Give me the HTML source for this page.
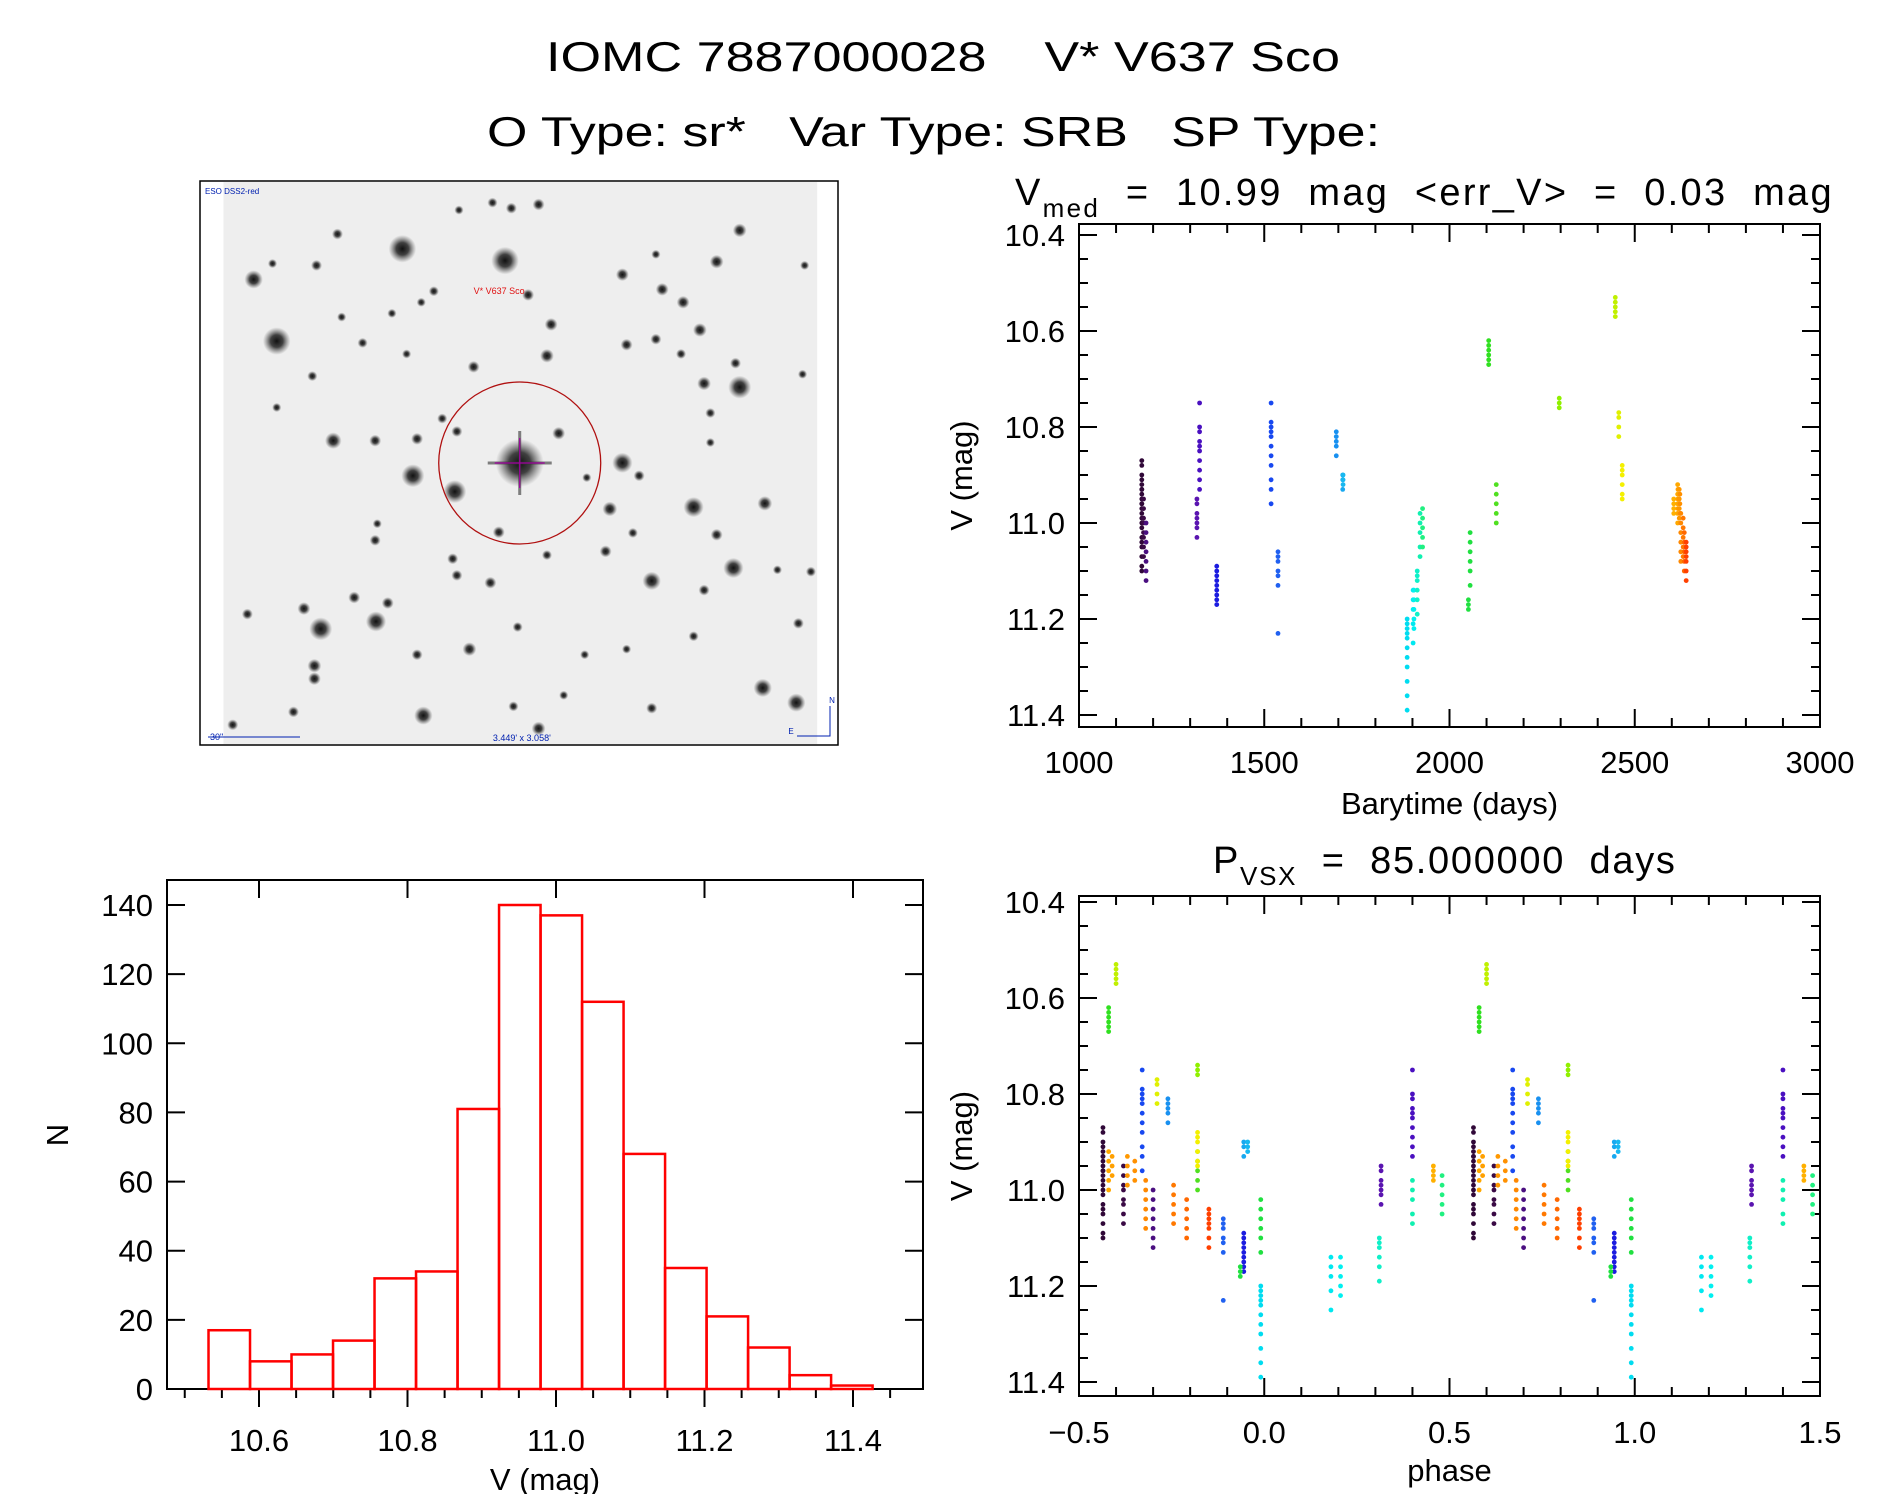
<!DOCTYPE html>
<html><head><meta charset="utf-8"><title>IOMC 7887000028</title>
<style>
html,body{margin:0;padding:0;background:#fff;}
svg{display:block;font-family:"Liberation Sans",sans-serif;}
text{white-space:pre;}
</style></head>
<body>
<svg id="fig" width="1889" height="1494" viewBox="0 0 1889 1494" xmlns="http://www.w3.org/2000/svg">
<defs>
<radialGradient id="blob"><stop offset="0" stop-color="#111" stop-opacity="1"/><stop offset="0.45" stop-color="#222" stop-opacity="0.85"/><stop offset="1" stop-color="#555" stop-opacity="0"/></radialGradient>
</defs>
<text x="546" y="71" font-size="42" textLength="794" lengthAdjust="spacingAndGlyphs" xml:space="preserve">IOMC 7887000028    V* V637 Sco</text>
<text x="487" y="146" font-size="42" textLength="893" lengthAdjust="spacingAndGlyphs" xml:space="preserve">O Type: sr*   Var Type: SRB   SP Type:</text>
<g id="sky"></g>
<g id="lc"></g>
<g id="ph"></g>
<g id="hist"></g>
</svg>
<script>
// ---------- data ----------
const histCounts = [17,8,10,14,32,34,81,140,137,112,68,35,21,12,4,1];
const histStart = 10.532;
const histBinWidth = 0.0559;
const histYTicks = [0,20,40,60,80,100,120,140];
const histXTicks = [10.6,10.8,11.0,11.2,11.4];

// each entry = one observing night (time in days, list of magnitudes)
const seasonColors = ["#300838","#3a0a45","#4a0f80","#4a10c0","#5a14b0","#1c1ce0","#1848f0","#2060f0","#1890f0","#18a8f0","#18b8f0","#00dcf0","#00e8f0","#00f0f0","#10f0c8","#10f0b0","#20f080","#20e040","#20e040","#30e020","#50e020","#90f000","#c0f000","#e0f000","#f4f000","#ffb000","#ffa800","#ffa000","#ff9800","#ff9000","#ff8800","#ff7800","#ff6800","#ff4000"];
const seasonTimes = [1169.5,1174.2,1181.0,1325.5,1318.3,1371.8,1518.5,1537.1,1694.4,1711.8,1712.7,1885.7,1901.8,1904.0,1912.9,1920.5,1927.3,2051.0,2055.7,2105.8,2126.2,2296.2,2447.5,2456.9,2466.2,2605.3,2615.8,2616.6,2620.1,2621.8,2624.3,2630.7,2633.7,2638.8];
const seasonMags = [
 [10.87,10.88,10.90,10.91,10.92,10.93,10.94,10.95,10.96,10.97,10.98,10.99,11.00,11.01,11.03,11.05,11.07,11.09,11.10,11.04,10.96,10.93],
 [10.95,10.97,10.99,11.00,11.02,11.03,11.05,11.07],
 [11.00,11.02,11.04,11.06,11.08,11.10,11.12],
 [10.75,10.80,10.81,10.83,10.84,10.85,10.87,10.89,10.91,10.93],
 [10.95,10.96,10.98,10.99,11.00,11.01,11.03],
 [11.09,11.10,11.11,11.12,11.13,11.14,11.15,11.16,11.17],
 [10.75,10.79,10.80,10.81,10.82,10.84,10.86,10.88,10.91,10.93,10.96],
 [11.06,11.07,11.08,11.10,11.11,11.13,11.23],
 [10.81,10.82,10.83,10.84,10.86],
 [10.90,10.91,10.93],
 [10.90,10.91,10.92],
 [11.20,11.21,11.22,11.23,11.24,11.26,11.28,11.30,11.33,11.36,11.39],
 [11.14,11.16,11.18,11.21,11.25],
 [11.14,11.16,11.18,11.20,11.22],
 [11.10,11.11,11.12,11.14,11.16,11.19],
 [10.98,11.00,11.02,11.05,11.07],
 [10.97,10.99,11.01,11.03,11.05],
 [11.16,11.17,11.18],
 [11.02,11.04,11.06,11.08,11.10,11.13],
 [10.62,10.63,10.64,10.65,10.66,10.67],
 [10.92,10.94,10.96,10.98,11.00],
 [10.74,10.75,10.76],
 [10.53,10.54,10.55,10.56,10.57],
 [10.77,10.78,10.80,10.82],
 [10.88,10.89,10.90,10.92,10.94,10.95],
 [10.95,10.96,10.97,10.98],
 [10.92,10.94,10.96,10.98,11.00],
 [10.93,10.95,10.97],
 [10.93,10.95,10.97,10.99],
 [10.94,10.96,10.98],
 [10.98,11.00,11.02,11.04,11.06,11.08],
 [10.99,11.01,11.03,11.05,11.07],
 [11.02,11.04,11.06,11.08,11.10],
 [11.04,11.05,11.06,11.07,11.08,11.10,11.12]
];
const period = 85.0;
const epoch = 1121.5;
const lcXTicks = [1000,1500,2000,2500,3000];
const magTicks = [10.4,10.6,10.8,11.0,11.2,11.4];
const phXTicks = [-0.5,0.0,0.5,1.0,1.5];
const phXLabels = ["\u22120.5","0.0","0.5","1.0","1.5"];

// ---------- helpers ----------
const NS = "http://www.w3.org/2000/svg";
function mk(parent, tag, attrs, text){
  const e = document.createElementNS(NS, tag);
  for (const k in attrs) e.setAttribute(k, attrs[k]);
  if (text !== undefined) e.textContent = text;
  parent.appendChild(e);
  return e;
}
function lin(d0,d1,r0,r1){ return v => r0 + (v-d0)*(r1-r0)/(d1-d0); }

function frame(g, L, T, R, B){
  const r = mk(g,"rect",{x:L,y:T,width:R-L,height:B-T,fill:"none",stroke:"#000","stroke-width":2});
  
  
}
function tick(g,x1,y1,x2,y2){
  const l = mk(g,"line",{x1:x1,y1:y1,x2:x2,y2:y2,stroke:"#000","stroke-width":2});
  
  
}
function label(g,x,y,txt,size,anchor,name){
  const t = mk(g,"text",{x:x,y:y,"font-size":size,"text-anchor":anchor||"middle",fill:"#000"},txt);
  
  
  return t;
}
function magAxis(g, L, R, y){
  for (let i=0;i<=20;i++){
    const m = 10.4+i*0.05;
    const yy = y(m);
    const len = (i%4===0)?18:9;
    tick(g,L,yy,L+len,yy); tick(g,R,yy,R-len,yy);
  }
  magTicks.forEach(m=>{
    label(g,L-14,y(m)+11,m.toFixed(1),31,"end","y-tick-label");
  });
}

// ---------- light curve ----------
(function(){
  const g = document.getElementById("lc");
  const L=1079,R=1820,T=224,B=727;
  const x = lin(1000,3000,L,R), y = lin(10.4,11.4,235,715);
  frame(g,L,T,R,B);
  magAxis(g,L,R,y);
  for (let d=1000; d<=3000; d+=100){
    const len = (d%500===0)?18:9;
    tick(g,x(d),B,x(d),B-len); tick(g,x(d),T,x(d),T+len);
  }
  lcXTicks.forEach(d=>label(g,x(d),773,String(d),31,"middle","x-tick-label"));
  label(g,(L+R)/2,814,"Barytime (days)",31,"middle","x-axis-title");
  const yt = label(g,0,0,"V (mag)",31,"middle","y-axis-title");
  yt.setAttribute("transform","translate(972,"+((T+B)/2)+") rotate(-90)");
  const st = mk(g,"text",{x:1015,y:205,"font-size":38,fill:"#000","letter-spacing":2.3});
  
  
  st.innerHTML = 'V<tspan font-size="26" dy="12">med</tspan><tspan dy="-12">  =  10.99  mag  &lt;err_V&gt;  =  0.03  mag</tspan>';
  seasonTimes.forEach((t,i)=>{
    seasonMags[i].forEach(m=>{
      const c = mk(g,"circle",{cx:x(t),cy:y(m),r:2.4,fill:seasonColors[i]});
      
      
    });
  });
})();

// ---------- phase plot ----------
(function(){
  const g = document.getElementById("ph");
  const L=1079,R=1820,T=896,B=1396;
  const x = lin(-0.5,1.5,L,R), y = lin(10.4,11.4,902,1382);
  frame(g,L,T,R,B);
  magAxis(g,L,R,y);
  for (let i=0;i<=20;i++){
    const p = -0.5+i*0.1;
    const len = (i%5===0)?18:9;
    tick(g,x(p),B,x(p),B-len); tick(g,x(p),T,x(p),T+len);
  }
  phXTicks.forEach((p,i)=>label(g,x(p),1443,phXLabels[i],31,"middle","x-tick-label"));
  label(g,(L+R)/2,1481,"phase",31,"middle","x-axis-title");
  const yt = label(g,0,0,"V (mag)",31,"middle","y-axis-title");
  yt.setAttribute("transform","translate(972,"+((T+B)/2)+") rotate(-90)");
  const st = mk(g,"text",{x:1213,y:873,"font-size":38,fill:"#000","letter-spacing":1.7});
  
  
  st.innerHTML = 'P<tspan font-size="26" dy="12">VSX</tspan><tspan dy="-12">  =  85.000000  days</tspan>';
  seasonTimes.forEach((t,i)=>{
    let ph = ((t-epoch)/period) % 1;
    if (ph<0) ph+=1;
    if (ph>=0.5) ph-=1;
    seasonMags[i].forEach(m=>{
      [ph, ph+1].forEach(pp=>{
        if (pp<-0.5||pp>1.5) return;
        const c = mk(g,"circle",{cx:x(pp),cy:y(m),r:2.4,fill:seasonColors[i]});
        
        
      });
    });
  });
})();

// ---------- histogram ----------
(function(){
  const g = document.getElementById("hist");
  const L=167,R=923,T=880,B=1389;
  const x = lin(10.6,11.4,259,853), y = lin(0,140,B,905);
  frame(g,L,T,R,B);
  for (let i=0;i<=20;i++){
    const v = 10.5+i*0.05;
    if (x(v)<L-1||x(v)>R+1) continue;
    tick(g,x(v),B,x(v),B+((i%4===2)?18:9));
  }
  histXTicks.forEach(v=>{ tick(g,x(v),T,x(v),T+18); label(g,x(v),1451,v.toFixed(1),31,"middle","x-tick-label"); });
  histYTicks.forEach(n=>{
    tick(g,L,y(n),L+18,y(n)); tick(g,R,y(n),R-18,y(n));
    label(g,L-14,y(n)+11,String(n),31,"end","y-tick-label");
  });
  label(g,(L+R)/2,1490,"V (mag)",31,"middle","x-axis-title");
  const yt = label(g,0,0,"N",31,"middle","y-axis-title");
  yt.setAttribute("transform","translate(68,1135) rotate(-90)");
  histCounts.forEach((n,i)=>{
    const x0 = x(histStart+i*histBinWidth), x1 = x(histStart+(i+1)*histBinWidth);
    const r = mk(g,"rect",{x:x0,y:y(n),width:x1-x0,height:B-y(n),fill:"none",stroke:"#ff0000","stroke-width":2.5});
    
    
  });
})();

// ---------- sky image ----------
(function(){
  const g = document.getElementById("sky");
  const SX = 0.419, OX = 195, SY = 0.369, OY = 175;
  const bg = mk(g,"rect",{x:OX+68*SX,y:182,width:(1485-68)*SX,height:562,fill:"#eeeeee"});
  
  
  const fr = mk(g,"rect",{x:200,y:181,width:638,height:564,fill:"none",stroke:"#000","stroke-width":1.5});
  
  
  const stars = [[495,200,3],[740,232,3],[140,283,2],[195,450,3],[1300,575,2.5],[520,815,2.5],[620,858,2.5],[1020,780,2.2],[1190,900,2.2],[300,1230,2.5],[432,1210,2.2],[1285,1065,2.2],[1090,1100,2],[1435,1430,2],[1355,1390,2],[545,1465,2],[1215,565,1.5],[1205,420,1.5],[1245,235,1.5],[1300,150,1.5],[1020,270,1.4],[1115,310,1.4],[1165,345,1.4],[840,490,1.5],[850,405,1.4],[665,520,1.3],[330,720,1.8],[430,720,1.3],[530,715,1.3],[868,700,1.4],[625,695,1.2],[990,905,1.6],[1360,890,1.6],[1245,975,1.3],[725,968,1.3],[980,1020,1.3],[615,1040,1.2],[625,1085,1.2],[705,1105,1.3],[840,1030,1.1],[260,1175,1.4],[380,1145,1.3],[460,1160,1.3],[125,1190,1.2],[285,1330,1.5],[285,1365,1.4],[655,1285,1.5],[530,1300,1.2],[770,1225,1.1],[235,1455,1.2],[90,1490,1.2],[820,1500,1.5],[1440,1215,1.2],[1215,1125,1.2],[1030,460,1.3],[1100,445,1.2],[1160,485,1.1],[1290,510,1.2],[1450,540,1],[820,80,1.3],[755,90,1.2],[710,75,1.1],[630,95,1],[340,160,1.2],[290,245,1.2],[185,240,1],[570,315,1.1],[795,325,1.3],[540,345,1],[350,385,1],[470,375,1],[400,455,1.1],[505,485,1],[280,545,1.1],[195,630,1],[590,660,1.1],[1230,645,1.1],[1230,725,1],[1060,815,1.2],[935,820,1],[1045,970,1.1],[430,990,1.2],[435,945,1],[1100,215,1],[1455,245,1],[1390,1070,1],[1470,1075,1.1],[880,1410,1],[1090,1445,1.2],[760,1440,1.1],[930,1300,1],[1030,1285,1],[1190,1250,1.1]];
  stars.forEach(s=>{
    const c = mk(g,"circle",{cx:OX+s[0]*SX,cy:OY+s[1]*SY,r:4.6*s[2],fill:"url(#blob)"});
    
    
  });
  const cx = OX+775*SX, cy = 463;
  const tc = mk(g,"circle",{cx:cx,cy:cy,r:24,fill:"url(#blob)"});
  
  
  mk(g,"line",{x1:cx-32,y1:cy,x2:cx+32,y2:cy,stroke:"#333","stroke-width":3,opacity:0.6});
  mk(g,"line",{x1:cx,y1:cy-32,x2:cx,y2:cy+32,stroke:"#333","stroke-width":3,opacity:0.6});
  mk(g,"line",{x1:cx-25,y1:cy,x2:cx+25,y2:cy,stroke:"#a000a0","stroke-width":1.2});
  mk(g,"line",{x1:cx,y1:cy-25,x2:cx,y2:cy+25,stroke:"#a000a0","stroke-width":1.2});
  const ring = mk(g,"ellipse",{cx:cx,cy:cy,rx:81,ry:81,fill:"none",stroke:"#b01010","stroke-width":1.3});
  
  
  label(g,OX+665*SX,294,"V* V637 Sco",9,"start","target-label").setAttribute("fill","#e01010");
  label(g,205,194,"ESO DSS2-red",8,"start","survey-label").setAttribute("fill","#0020b0");
  label(g,210,740,"30\"",9,"start","scale-label").setAttribute("fill","#0020b0");
  mk(g,"line",{x1:208,y1:737,x2:300,y2:737,stroke:"#0020b0","stroke-width":1});
  label(g,OX+780*SX,741,"3.449' x 3.058'",9,"middle","fov-label").setAttribute("fill","#0020b0");
  mk(g,"polyline",{points:"797,736 830,736 830,706",fill:"none",stroke:"#0020b0","stroke-width":1});
  label(g,832,703,"N",8,"middle","north-label").setAttribute("fill","#0020b0");
  label(g,791,734,"E",8,"middle","east-label").setAttribute("fill","#0020b0");
})();
</script>
</body></html>
